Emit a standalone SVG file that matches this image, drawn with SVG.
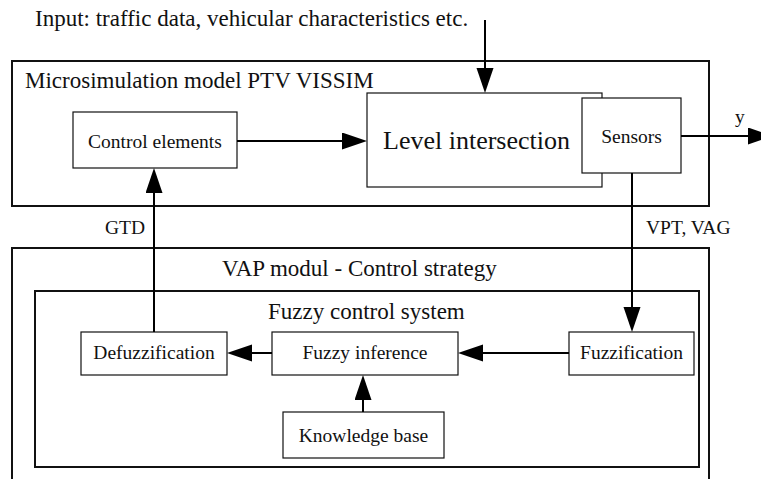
<svg xmlns="http://www.w3.org/2000/svg" width="761" height="479" viewBox="0 0 761 479">
<defs>
<style>
text{font-family:"Liberation Serif","Times New Roman",serif;fill:#111}
.big{font-size:23px}
.sm{font-size:19.5px}
.frame{fill:none;stroke:#111;stroke-width:2}
.box{fill:#fff;stroke:#111;stroke-width:1.2}
.conn path{fill:none;stroke:#000;stroke-width:2;marker-end:url(#ah)}
</style>
<marker id="ah" markerUnits="userSpaceOnUse" markerWidth="26" markerHeight="18" refX="15" refY="8.5" orient="auto">
<path d="M0,0 L25,8.5 L0,17 z" fill="#000"/>
</marker>
</defs>
<rect width="761" height="479" fill="#fff"/>
<text class="big" x="35" y="26">Input: traffic data, vehicular characteristics etc.</text>
<g id="vissim">
<rect class="frame" x="12" y="61" width="697" height="145"/>
<text class="big" x="25" y="88">Microsimulation model PTV VISSIM</text>
</g>
<g id="vap">
<rect class="frame" x="12" y="248" width="697" height="260"/>
<text class="big" x="222" y="276">VAP modul - Control strategy</text>
</g>
<g id="fuzzy-system">
<rect class="frame" x="35" y="291" width="664" height="176"/>
<text class="big" x="268" y="319">Fuzzy control system</text>
</g>
<g id="control-elements">
<rect class="box" x="73" y="112" width="164" height="56"/>
<text class="sm" x="155" y="148" text-anchor="middle">Control elements</text>
</g>
<g id="level-intersection">
<rect class="box" x="367" y="93" width="235" height="94"/>
<text x="383" y="149" font-size="26">Level intersection</text>
</g>
<g id="sensors">
<rect class="box" x="582" y="98" width="99" height="75"/>
<text class="sm" x="631.5" y="143" text-anchor="middle">Sensors</text>
</g>
<g id="defuzzification">
<rect class="box" x="81" y="332" width="146" height="43"/>
<text class="sm" x="154" y="359" text-anchor="middle">Defuzzification</text>
</g>
<g id="fuzzy-inference">
<rect class="box" x="272" y="332" width="186" height="43"/>
<text class="sm" x="365" y="359" text-anchor="middle">Fuzzy inference</text>
</g>
<g id="fuzzification">
<rect class="box" x="569" y="332" width="125" height="43"/>
<text class="sm" x="631.5" y="359" text-anchor="middle">Fuzzification</text>
</g>
<g id="knowledge-base">
<rect class="box" x="283" y="412" width="161" height="46"/>
<text class="sm" x="363.5" y="442" text-anchor="middle">Knowledge base</text>
</g>
<g id="connectors" class="conn">
<path d="M485,20 V83"/>
<path d="M237,141 H357"/>
<path d="M681,136 H763"/>
<path d="M632,173 V322"/>
<path d="M569,353 H468"/>
<path d="M272,353 H237"/>
<path d="M363,412 V385"/>
<path d="M154,332 V178"/>
</g>
<g id="labels">
<text class="sm" x="735" y="123">y</text>
<text class="sm" x="646" y="234">VPT, VAG</text>
<text class="sm" x="105" y="234">GTD</text>
</g>
</svg>
